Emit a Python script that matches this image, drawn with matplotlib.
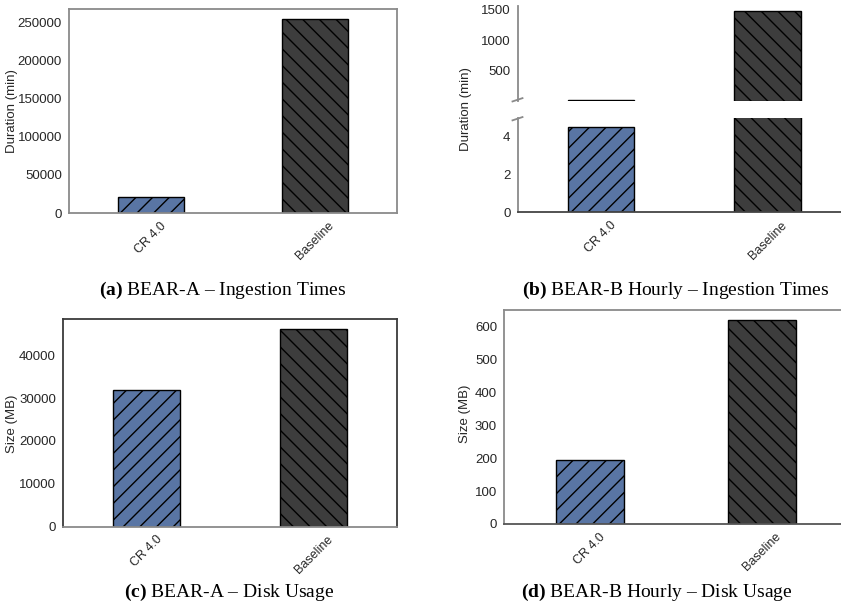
import numpy as np
import matplotlib
matplotlib.use("Agg")
import matplotlib.pyplot as plt

plt.rcParams["font.family"] = "Liberation Sans"
plt.rcParams["hatch.linewidth"] = 1.0
plt.rcParams["mathtext.fontset"] = "custom"
plt.rcParams["mathtext.rm"] = "Liberation Serif"
plt.rcParams["mathtext.bf"] = "Liberation Serif:bold"

systems = ["CR 4.0", "Baseline"]
bear_a_ingest = [20500, 254500]     # minutes
bear_b_ingest = [4.54, 1490]        # minutes
bear_a_disk = [31900, 46050]        # MB
bear_b_disk = [194.5, 618]          # MB

colors = ["#5975a4", "#3d3d3d"]
hatches = ["//", "\\\\"]
txt = "#262626"
fs = 9.5

W, H = 841, 616
fig = plt.figure(figsize=(W / 100, H / 100), dpi=100)


def box(l, t, r, b):
    return [l / W, 1 - b / H, (r - l) / W, (b - t) / H]


def bars(ax, vals):
    x = np.arange(len(systems))
    for i in range(len(systems)):
        ax.bar(x[i], vals[i], width=0.4, color=colors[i], hatch=hatches[i],
               edgecolor="black", linewidth=1.0)
    ax.set_xlim(-0.5, 1.5)
    ax.set_xticks(x)
    ax.set_xticklabels(systems, rotation=45, ha="center")
    ax.tick_params(length=0, labelsize=fs, colors=txt, pad=5)
    ax.tick_params(axis="x", pad=5, labelsize=9)


def style(ax, col):
    for s in ax.spines.values():
        s.set_color(col)
        s.set_linewidth(1.3)


def ylab(x, y, s):
    fig.text(x / W, 1 - y / H, s, rotation=90, fontsize=fs, color=txt,
             ha="center", va="center")


# (a) ingestion times BEAR-A
ax = fig.add_axes(box(69, 9, 397, 213))
bars(ax, bear_a_ingest)
ax.set_ylim(0, max(bear_a_ingest) * 1.05)
ax.set_yticks([0, 50000, 100000, 150000, 200000, 250000])
style(ax, "#8a8a8a")
ylab(12.5, 111, "Duration (min)")

# (b) ingestion times BEAR-B hourly, broken y axis
top = fig.add_axes(box(517.5, 6, 851, 100.5))
low = fig.add_axes(box(517.5, 118, 851, 212.3))
bars(top, bear_b_ingest)
bars(low, bear_b_ingest)
top.set_ylim(0, max(bear_b_ingest) * 1.05)
top.set_yticks([500, 1000, 1500])
low.set_ylim(0, 5)
low.set_yticks([0, 2, 4])
top.set_xticks([])
for a in (top, low):
    a.spines["top"].set_visible(False)
    a.spines["right"].set_visible(False)
    a.spines["left"].set_color("#8a8a8a")
    a.spines["left"].set_linewidth(1.3)
top.spines["bottom"].set_visible(False)
low.spines["bottom"].set_color("#444444")
low.spines["bottom"].set_linewidth(1.3)
# break marks on the left spine
d = dict(color="#8a8a8a", lw=1.3, clip_on=False)
top.plot([-5 / 333.5, 5 / 333.5], [-0.01, 0.025], transform=top.transAxes, **d)
low.plot([-5 / 333.5, 5 / 333.5], [0.975, 1.01], transform=low.transAxes, **d)
ylab(466, 109, "Duration (min)")

# (c) disk usage BEAR-A
ax = fig.add_axes(box(63, 319.3, 397, 526.7))
bars(ax, bear_a_disk)
ax.set_ylim(0, max(bear_a_disk) * 1.05)
ax.set_yticks([0, 10000, 20000, 30000, 40000])
style(ax, "#3a3a3a")
ax.spines["bottom"].set_color("#8a8a8a")
ylab(12.5, 424, "Size (MB)")

# (d) disk usage BEAR-B hourly
ax = fig.add_axes(box(504, 310, 848, 524))
bars(ax, bear_b_disk)
ax.set_ylim(0, max(bear_b_disk) * 1.05)
ax.set_yticks([0, 100, 200, 300, 400, 500, 600])
style(ax, "#8a8a8a")
ax.spines["bottom"].set_color("#555555")
ylab(465, 414, "Size (MB)")

# sub-captions
caps = [
    (223, 290, r"$\mathbf{(a)}$ BEAR-A – Ingestion Times"),
    (676, 290, r"$\mathbf{(b)}$ BEAR-B Hourly – Ingestion Times"),
    (229.5, 592, r"$\mathbf{(c)}$ BEAR-A – Disk Usage"),
    (656.5, 592, r"$\mathbf{(d)}$ BEAR-B Hourly – Disk Usage"),
]
for cx, cy, s in caps:
    fig.text(cx / W, 1 - cy / H, s, fontsize=14, family="Liberation Serif",
             color="black", ha="center", va="center")

fig.savefig("out.png", dpi=100)
